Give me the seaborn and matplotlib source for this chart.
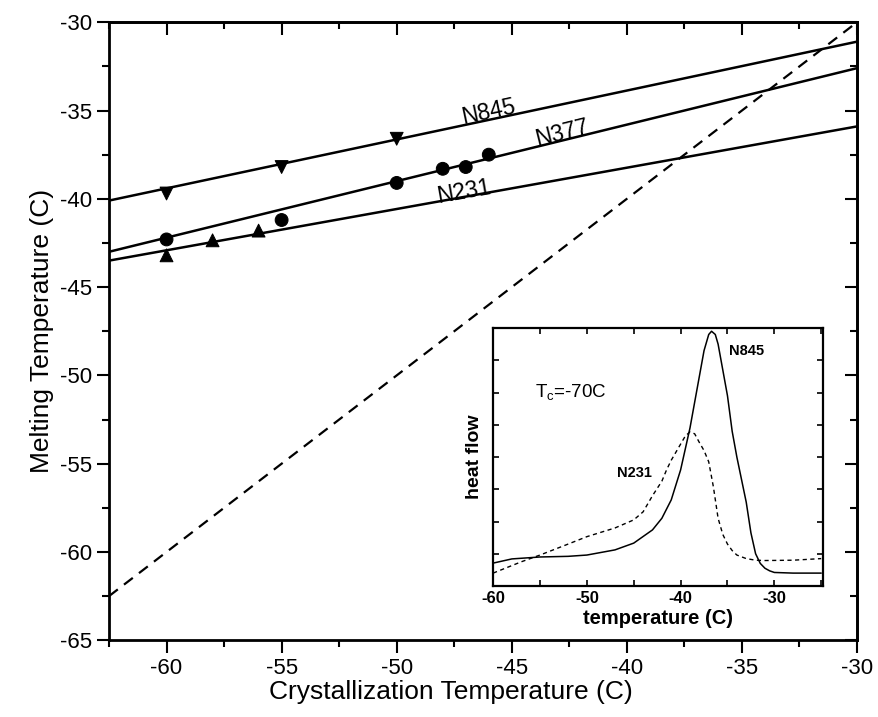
# Melting vs crystallization temperature, with DSC inset
import matplotlib
matplotlib.use('Agg')
import numpy as np
import pandas as pd
import matplotlib.pyplot as plt
from matplotlib.ticker import MultipleLocator, NullFormatter
import seaborn as sns

sns.set_style('ticks')
plt.rcParams['font.family'] = ['Liberation Sans', 'DejaVu Sans']
plt.rcParams['axes.unicode_minus'] = False
plt.rcParams['text.color'] = 'black'
plt.rcParams['axes.labelcolor'] = 'black'
plt.rcParams['xtick.color'] = 'black'
plt.rcParams['ytick.color'] = 'black'

TICK_FONT_SIZE = 16
LABEL_FONT_SIZE = 19

#------------------------------------------------------------------
# Data
#------------------------------------------------------------------
n845_x = [-60, -55, -50]
n845_y = [-39.7, -38.2, -36.6]
n377_x = [-60, -55, -50, -48, -47, -46]
n377_y = [-42.3, -41.2, -39.1, -38.3, -38.2, -37.5]
n231_x = [-60, -58, -56]
n231_y = [-43.2, -42.35, -41.8]

# linear fits, value at both ends of the x range
fit_x = [-62.5, -30]
n845_fit = [-40.1, -31.1]
n377_fit = [-43.0, -32.6]
n231_fit = [-43.5, -35.9]
equal_line = [-62.5, -30]   # Tm = Tc

# inset: DSC heat flow traces (arbitrary units)
n845_t = [-60, -58, -55, -52, -50, -47, -45, -43, -42, -41, -40, -39, -38.5,
          -38, -37.5, -37, -36.7, -36.3, -36, -35.5, -35, -34.5, -34, -33.5,
          -33, -32.5, -32, -31.5, -31, -30.5, -30, -28, -25]
n845_hf = [0.71, 0.84, 0.9, 0.92, 0.96, 1.12, 1.33, 1.74, 2.1, 2.67, 3.6, 4.9, 5.7,
           6.5, 7.3, 7.8, 7.9, 7.8, 7.5, 6.7, 5.9, 4.8, 4.0, 3.3,
           2.6, 1.65, 1.0, 0.7, 0.55, 0.47, 0.42, 0.4, 0.4]
n231_t = [-60, -57, -55, -52, -50, -47, -45, -44, -43, -42, -41.5, -41, -40,
          -39.5, -39, -38.5, -38, -37.5, -37, -36.5, -36, -35.5, -35, -34.5,
          -34, -33, -32, -31, -28, -25]
n231_hf = [0.4, 0.75, 0.96, 1.3, 1.53, 1.8, 2.05, 2.3, 2.8, 3.25, 3.6, 3.9, 4.4,
           4.65, 4.78, 4.72, 4.45, 4.2, 3.85, 3.07, 2.1, 1.6, 1.3, 1.1,
           0.96, 0.85, 0.8, 0.79, 0.8, 0.85]

points = pd.concat([
    pd.DataFrame({'tc': n845_x, 'tm': n845_y, 'sample': 'N845'}),
    pd.DataFrame({'tc': n377_x, 'tm': n377_y, 'sample': 'N377'}),
    pd.DataFrame({'tc': n231_x, 'tm': n231_y, 'sample': 'N231'}),
])

#------------------------------------------------------------------
# Main plot
#------------------------------------------------------------------
fig = plt.figure(figsize=(8.79, 7.17), dpi=100)
ax = fig.add_axes([0.124, 0.107, 0.851, 0.862])

for fit in [n845_fit, n377_fit, n231_fit]:
    sns.lineplot(x=fit_x, y=fit, color='black', lw=1.8, ax=ax)
sns.lineplot(x=fit_x, y=equal_line, color='black', lw=1.6, ax=ax,
             dashes=False, linestyle=(0, (5, 3.5)))

sns.scatterplot(data=points, x='tc', y='tm', style='sample',
                markers={'N845': 'v', 'N377': 'o', 'N231': '^'},
                color='black', edgecolor='black', s=85, legend=False, ax=ax)

ax.text(-46.0, -35.1, 'N845', fontsize=16.5, rotation=12, ha='center', va='center')
ax.text(-42.8, -36.3, 'N377', fontsize=16.5, rotation=14, ha='center', va='center')
ax.text(-47.1, -39.6, 'N231', fontsize=16.5, rotation=10, ha='center', va='center')

ax.set_xlim(-62.5, -30)
ax.set_ylim(-65, -30)
ax.xaxis.set_major_locator(MultipleLocator(5))
ax.xaxis.set_minor_locator(MultipleLocator(2.5))
ax.yaxis.set_major_locator(MultipleLocator(5))
ax.yaxis.set_minor_locator(MultipleLocator(2.5))
ax.tick_params(which='major', direction='out', length=9, width=1.5,
               labelsize=TICK_FONT_SIZE, color='black')
ax.tick_params(which='minor', direction='out', length=5, width=1.5, color='black')
ax.set_xlabel('Crystallization Temperature (C)', fontsize=LABEL_FONT_SIZE)
ax.set_ylabel('Melting Temperature (C)', fontsize=LABEL_FONT_SIZE)
ax.xaxis.set_label_coords(0.457, -0.065)
for sp in ax.spines.values():
    sp.set_linewidth(2)
    sp.set_color('black')

# inward ticks on top and right
top = ax.secondary_xaxis('top')
top.xaxis.set_major_locator(MultipleLocator(5))
top.xaxis.set_minor_locator(MultipleLocator(2.5))
top.xaxis.set_major_formatter(NullFormatter())
top.tick_params(which='major', direction='in', length=9, width=1.5)
top.tick_params(which='minor', direction='in', length=5, width=1.5)
top.spines['top'].set_linewidth(2)
right = ax.secondary_yaxis('right')
right.yaxis.set_major_locator(MultipleLocator(5))
right.yaxis.set_minor_locator(MultipleLocator(2.5))
right.yaxis.set_major_formatter(NullFormatter())
right.tick_params(which='major', direction='in', length=9, width=1.5)
right.tick_params(which='minor', direction='in', length=5, width=1.5)
right.spines['right'].set_linewidth(2)

#------------------------------------------------------------------
# Inset
#------------------------------------------------------------------
ins = fig.add_axes([0.561, 0.1827, 0.3754, 0.3598])
sns.lineplot(x=n845_t, y=n845_hf, color='black', lw=1.1, ax=ins)
sns.lineplot(x=n231_t, y=n231_hf, color='black', lw=1.0, ax=ins,
             linestyle=(0, (3, 2.5)))
ins.set_xlim(-60, -24.8)
ins.set_ylim(0, 8)
ins.xaxis.set_major_locator(MultipleLocator(10))
ins.xaxis.set_minor_locator(MultipleLocator(5))
ins.yaxis.set_major_locator(MultipleLocator(1))
ins.yaxis.set_major_formatter(NullFormatter())
ins.tick_params(which='both', direction='in', top=True, right=True,
                length=4, width=1.2, labelsize=12)
for lbl in ins.get_xticklabels():
    lbl.set_fontweight('bold')
ins.set_xlabel('temperature (C)', fontsize=14.5, fontweight='bold', labelpad=2)
ins.set_ylabel('heat flow', fontsize=14, fontweight='bold', labelpad=4)
for sp in ins.spines.values():
    sp.set_linewidth(1.6)
    sp.set_color('black')

ins.text(-34.8, 7.3, 'N845', fontsize=10.5, fontweight='bold', va='center')
ins.text(-46.8, 3.5, 'N231', fontsize=10.5, fontweight='bold', va='center')
ins.text(-55.5, 6.0, r'T$_\mathregular{c}$=-70C', fontsize=13.5, va='center')

plt.savefig('out.png', dpi=100)
plt.close()
